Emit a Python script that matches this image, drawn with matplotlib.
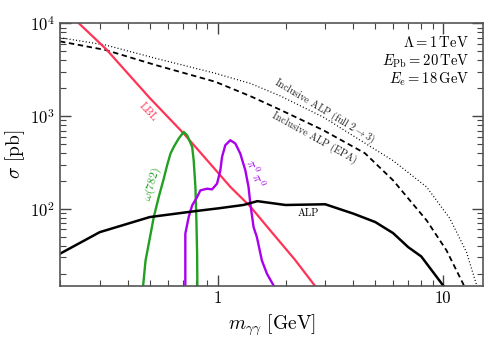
import numpy as np
import matplotlib
matplotlib.use('Agg')
import matplotlib.pyplot as plt
from matplotlib.ticker import NullFormatter, LogLocator, FixedLocator, FixedFormatter

plt.rcParams['font.family'] = 'serif'
plt.rcParams['font.serif'] = ['cmr10', 'DejaVu Serif']
plt.rcParams['mathtext.fontset'] = 'cm'
plt.rcParams['axes.formatter.use_mathtext'] = True

# ---- data (m in GeV, sigma in pb)
lbl_m = [0.243, 0.32, 0.5, 0.707, 0.85, 1.14, 1.4, 1.71, 2.2, 2.71, 3.2]
lbl_s = [1.0e4, 5300, 1570, 650, 390, 172, 105, 58.6, 28.3, 14.6, 8.7]

epa_m = [0.2, 0.318, 0.531, 0.977, 1.4, 1.89, 2.94, 4.5, 6.0, 8.45, 10.35, 12.27, 14.0]
epa_s = [6410, 5180, 3560, 2350, 1640, 1175, 706, 398, 203, 75, 35.6, 15.5, 7.0]

full_m = [0.2, 0.318, 0.531, 0.977, 1.4, 1.89, 2.94, 4.29, 6.0, 8.45, 10.7, 12.7, 14.1, 15.0]
full_s = [7030, 5860, 4210, 2900, 2250, 1660, 977, 550, 331, 172, 79, 34, 14.8, 8.0]

alp_m = [0.2, 0.3, 0.5, 0.8, 1.0, 1.3, 1.5, 2.0, 3.0, 4.0, 5.0, 6.0, 7.0, 8.0, 10.0]
alp_s = [32.8, 56, 81.5, 94.6, 101, 110, 121, 110, 112, 88.7, 72, 54.7, 38.6, 30.6, 14.9]

omega_m = [0.46, 0.479, 0.495, 0.521, 0.548, 0.577, 0.597, 0.618, 0.639, 0.672, 0.707,
           0.732, 0.771, 0.783, 0.797, 0.805, 0.811, 0.814]
omega_s = [10, 27.7, 42.1, 81.5, 134, 212, 295, 395, 466, 574, 676,
           623, 466, 334, 172, 75, 32.8, 10]

pipi_m = [0.719, 0.719, 0.744, 0.771, 0.811, 0.838, 0.898, 0.944, 0.994, 1.028, 1.046,
          1.081, 1.138, 1.198, 1.26, 1.327, 1.371, 1.396, 1.443, 1.493, 1.571, 1.655, 1.77, 1.85]
pipi_s = [10, 54, 81.5, 109, 134, 158, 165, 162, 187, 260, 363,
          485, 550, 507, 395, 260, 172, 114, 63.6, 49.5, 27.7, 19.9, 14.9, 12]

xticks = [1, 10]
xticklabels = ['1', '10']

red = '#ff3355'
green = '#22a022'
purple = '#aa00ee'

fig = plt.figure(figsize=(4.86, 3.43), dpi=100)
ax = fig.add_axes([0.1235, 0.167, 0.870, 0.7645])

ax.plot(full_m, full_s, color='k', lw=0.9, ls=(0, (0.8, 1.8)))
ax.plot(epa_m, epa_s, color='k', lw=1.3, ls=(0, (3, 2)))
ax.plot(lbl_m, lbl_s, color=red, lw=1.6)
ax.plot(omega_m, omega_s, color=green, lw=1.7)
ax.plot(pipi_m, pipi_s, color=purple, lw=1.7)
ax.plot(alp_m, alp_s, color='k', lw=1.8)

ax.set_xscale('log')
ax.set_yscale('log')
ax.set_xlim(0.2, 15)
ax.set_ylim(14.8, 1e4)

ax.xaxis.set_major_locator(FixedLocator(xticks))
ax.xaxis.set_major_formatter(FixedFormatter(xticklabels))
for a in (ax.xaxis, ax.yaxis):
    a.set_minor_formatter(NullFormatter())
ax.xaxis.set_minor_locator(LogLocator(base=10, subs=np.arange(2, 10)))
ax.yaxis.set_minor_locator(LogLocator(base=10, subs=np.arange(2, 10)))
ax.tick_params(which='both', direction='in', top=True, right=True, colors='#444444',
               labelcolor='k', labelsize=12)
ax.tick_params(which='major', length=8, width=1.0)
ax.tick_params(which='minor', length=4, width=0.8)
for s in ax.spines.values():
    s.set_color('#555555')
    s.set_linewidth(1.2)

ax.set_xlabel(r'$m_{\gamma\gamma}$ [GeV]', fontsize=14, labelpad=5)
ax.set_ylabel(r'$\sigma$ [pb]', fontsize=14, labelpad=2)

# curve labels
ax.text(0.49, 1100, 'LBL', color=red, fontsize=8, rotation=-47, ha='center', va='center')
ax.text(2.53, 90, 'ALP', color='k', fontsize=7.5, ha='center', va='center')
ax.text(2.97, 1130, r'Inclusive ALP (full 2$\to$3)', fontsize=7.2, rotation=-31,
        ha='center', va='center', color='#222222')
ax.text(2.68, 587, 'Inclusive ALP (EPA)', fontsize=7.2, rotation=-29,
        ha='center', va='center', color='#222222')
ax.text(0.515, 185, r'$\omega(782)$', color=green, fontsize=8.5, rotation=74,
        ha='center', va='center')
ax.text(1.47, 245, r'$\pi^0\,\pi^0$', color=purple, fontsize=9, rotation=-68,
        ha='center', va='center')

info = [r'$\Lambda = 1\,\mathrm{TeV}$', r'$E_{\mathrm{Pb}} = 20\,\mathrm{TeV}$',
        r'$E_e = 18\,\mathrm{GeV}$']
for i, t in enumerate(info):
    ax.text(0.967, 0.926 - 0.069 * i, t, transform=ax.transAxes, fontsize=10.5,
            ha='right', va='center')

fig.savefig('out.png', dpi=100)
